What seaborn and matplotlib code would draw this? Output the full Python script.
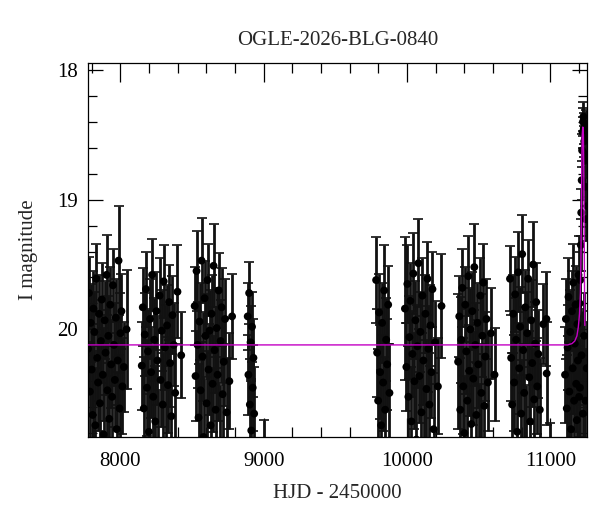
import matplotlib
matplotlib.use("Agg")
import matplotlib.pyplot as plt
from matplotlib.ticker import MultipleLocator, FormatStrFormatter
import numpy as np
import pandas as pd
import seaborn as sns

# observing seasons: HJD - 2450000, I magnitude, error
s1_t = [7774, 7780, 7787, 7793, 7799, 7806, 7812, 7818, 7825, 7831, 7838, 7844,
        7851, 7857, 7864, 7870, 7877, 7883, 7890, 7896, 7903, 7909, 7916, 7922,
        7929, 7935, 7942, 7948, 7955, 7961, 7968, 7974, 7981, 7987, 7994, 8000,
        8007, 8014, 8024, 8043]
s1_m = [20.15, 19.72, 20.48, 19.95, 20.31, 20.66, 19.84, 20.02, 20.74, 19.61, 20.22, 20.41,
        19.88, 20.57, 20.09, 19.77, 20.35, 20.81, 19.93, 20.18, 19.58, 20.47, 20.05, 20.69,
        19.81, 20.27, 20.52, 19.66, 20.12, 20.39, 19.91, 20.77, 20.24, 19.47, 20.61, 20.03,
        19.86, 20.44, 20.29, 20.00]
s1_e = [0.32, 0.28, 0.38, 0.30, 0.35, 0.42, 0.29, 0.31, 0.44, 0.27, 0.33, 0.37,
        0.30, 0.40, 0.32, 0.28, 0.36, 0.45, 0.30, 0.33, 0.31, 0.38, 0.31, 0.43,
        0.29, 0.34, 0.39, 0.28, 0.32, 0.36, 0.30, 0.44, 0.34, 0.42, 0.41, 0.31,
        0.29, 0.37, 0.35, 0.46]

s2_t = [8149, 8156, 8163, 8170, 8178, 8185, 8192, 8199, 8207, 8214, 8221, 8229,
        8236, 8243, 8251, 8258, 8265, 8273, 8280, 8288, 8295, 8302, 8310, 8317,
        8325, 8332, 8340, 8347, 8355, 8363, 8372, 8382, 8398, 8424]
s2_m = [20.28, 19.83, 20.61, 20.04, 19.69, 20.45, 20.17, 20.79, 19.92, 20.33, 19.58, 20.52,
        20.08, 20.71, 19.86, 20.24, 20.93, 19.74, 20.39, 20.01, 20.58, 19.63, 20.14, 20.86,
        19.97, 20.43, 19.79, 20.26, 20.67, 19.89, 20.12, 20.49, 19.71, 20.20]
s2_e = [0.34, 0.30, 0.40, 0.32, 0.29, 0.37, 0.33, 0.44, 0.31, 0.35, 0.28, 0.39,
        0.32, 0.43, 0.30, 0.34, 0.46, 0.29, 0.36, 0.31, 0.40, 0.28, 0.33, 0.45,
        0.31, 0.37, 0.29, 0.34, 0.41, 0.30, 0.32, 0.38, 0.36, 0.33]

s3_t = [8518, 8524, 8531, 8538, 8545, 8552, 8559, 8566, 8573, 8580, 8587, 8594,
        8601, 8608, 8615, 8622, 8629, 8636, 8643, 8650, 8657, 8664, 8671, 8678,
        8685, 8692, 8699, 8706, 8713, 8721, 8730, 8741, 8760, 8779]
s3_m = [19.82, 20.36, 19.55, 20.12, 20.68, 19.94, 20.47, 19.47, 20.21, 20.83, 19.76, 20.05,
        20.57, 19.62, 20.31, 20.01, 20.74, 19.88, 20.42, 19.51, 20.16, 20.62, 19.99, 20.35,
        19.70, 20.89, 20.09, 19.83, 20.50, 20.25, 19.92, 20.64, 20.40, 19.90]
s3_e = [0.30, 0.35, 0.31, 0.33, 0.41, 0.30, 0.37, 0.33, 0.34, 0.45, 0.29, 0.32,
        0.40, 0.28, 0.35, 0.31, 0.43, 0.30, 0.37, 0.32, 0.33, 0.41, 0.31, 0.36,
        0.29, 0.46, 0.32, 0.30, 0.39, 0.34, 0.31, 0.42, 0.37, 0.33]

s4_t = [8888, 8893, 8898, 8903, 8908, 8913, 8918, 8923, 8928, 8933, 9004]
s4_m = [19.90, 20.35, 19.72, 20.58, 20.10, 20.78, 19.98, 20.45, 20.22, 20.65, 21.10]
s4_e = [0.26, 0.31, 0.24, 0.35, 0.28, 0.38, 0.27, 0.33, 0.30, 0.36, 0.40]

s5_t = [9784, 9791, 9798, 9805, 9812, 9819, 9826, 9833, 9840, 9847, 9854, 9861,
        9868, 9877]
s5_m = [19.62, 20.18, 20.55, 19.87, 20.33, 20.74, 19.95, 20.41, 19.70, 20.62, 20.08, 20.27,
        19.81, 20.49]
s5_e = [0.33, 0.34, 0.40, 0.30, 0.36, 0.43, 0.31, 0.37, 0.35, 0.41, 0.32, 0.35,
        0.30, 0.38]

s6_t = [9985, 9995, 10002, 10009, 10016, 10023, 10030, 10037, 10044, 10051, 10058, 10065,
        10072, 10079, 10086, 10093, 10100, 10107, 10114, 10121, 10128, 10135, 10142, 10149,
        10156, 10163, 10170, 10177, 10185, 10195, 10215, 10240]
s6_m = [19.84, 20.29, 19.65, 20.52, 20.06, 19.78, 20.71, 20.19, 19.57, 20.40, 19.93, 20.85,
        20.13, 19.49, 20.36, 20.02, 20.64, 19.74, 20.24, 20.90, 19.88, 20.46, 19.61, 20.15,
        20.58, 19.97, 20.33, 19.69, 20.77, 20.10, 20.44, 19.82]
s6_e = [0.55, 0.34, 0.30, 0.39, 0.32, 0.29, 0.42, 0.33, 0.31, 0.37, 0.30, 0.45,
        0.32, 0.34, 0.36, 0.31, 0.41, 0.29, 0.34, 0.46, 0.30, 0.38, 0.28, 0.33,
        0.40, 0.31, 0.35, 0.29, 0.43, 0.32, 0.37, 0.40]

s7_t = [10356, 10364, 10371, 10378, 10385, 10392, 10399, 10406, 10413, 10420, 10427, 10434,
        10441, 10448, 10455, 10462, 10469, 10476, 10483, 10490, 10497, 10504, 10511, 10518,
        10525, 10532, 10539, 10546, 10554, 10564, 10585, 10610]
s7_m = [20.25, 19.90, 20.62, 20.08, 19.68, 20.44, 20.80, 19.81, 20.17, 20.55, 19.59, 20.32,
        20.00, 20.73, 19.86, 20.38, 19.52, 20.12, 20.66, 19.95, 20.27, 20.88, 19.74, 20.49,
        20.05, 19.64, 20.59, 20.21, 19.92, 20.41, 20.03, 20.35]
s7_e = [0.52, 0.31, 0.40, 0.33, 0.30, 0.37, 0.44, 0.29, 0.33, 0.40, 0.31, 0.35,
        0.32, 0.43, 0.30, 0.36, 0.33, 0.32, 0.41, 0.31, 0.34, 0.46, 0.29, 0.38,
        0.32, 0.30, 0.40, 0.34, 0.31, 0.37, 0.35, 0.36]

s8_t = [10718, 10726, 10733, 10740, 10747, 10754, 10761, 10768, 10775, 10782, 10789, 10796,
        10803, 10810, 10817, 10824, 10831, 10838, 10845, 10852, 10859, 10866, 10873, 10880,
        10887, 10894, 10901, 10908, 10916, 10926, 10950, 10972, 10974, 10996]
s8_m = [19.61, 20.22, 20.58, 19.88, 20.41, 19.73, 20.08, 20.79, 19.56, 20.30, 19.98, 20.65,
        19.42, 20.16, 20.49, 19.83, 20.90, 20.03, 19.61, 20.37, 20.71, 19.93, 20.26, 19.50,
        20.54, 20.11, 19.79, 20.44, 20.19, 20.62, 19.96, 19.92, 20.34, 21.10]
s8_e = [0.25, 0.33, 0.40, 0.30, 0.37, 0.29, 0.32, 0.44, 0.31, 0.35, 0.31, 0.41,
        0.30, 0.33, 0.38, 0.29, 0.47, 0.32, 0.30, 0.36, 0.42, 0.31, 0.34, 0.33,
        0.39, 0.32, 0.30, 0.37, 0.34, 0.40, 0.31, 0.36, 0.40, 0.38]

s9_t = [11102, 11108, 11114, 11120, 11126, 11132, 11138, 11144, 11150, 11155, 11160, 11165,
        11170, 11175, 11180, 11184, 11188, 11192, 11196, 11200, 11204, 11208, 11212, 11215,
        11218, 11221, 11224, 11227, 11230, 11233, 11236, 11239, 11242, 11245, 11248, 11251,
        11254, 11257, 11206, 11217, 11226, 11235, 11244, 11253]
s9_m = [20.35, 19.92, 20.61, 20.14, 19.75, 20.48, 20.02, 20.77, 19.86, 20.30, 19.64, 20.55,
        20.11, 19.81, 20.42, 20.70, 19.96, 20.24, 19.58, 20.52, 19.80, 19.62, 19.35, 19.10,
        18.85, 18.62, 18.48, 18.40, 18.36, 18.45, 18.55, 18.70, 18.90, 19.15, 18.50, 18.42,
        18.65, 19.05, 20.45, 20.20, 20.65, 20.05, 20.55, 20.30]
s9_e = [0.37, 0.31, 0.41, 0.33, 0.30, 0.38, 0.32, 0.44, 0.31, 0.35, 0.30, 0.40,
        0.33, 0.30, 0.37, 0.42, 0.31, 0.34, 0.30, 0.39, 0.25, 0.22, 0.20, 0.18,
        0.15, 0.13, 0.12, 0.11, 0.11, 0.12, 0.12, 0.13, 0.15, 0.17, 0.12, 0.11,
        0.13, 0.16, 0.38, 0.34, 0.41, 0.33, 0.40, 0.36]

# microlensing model curve
model_t = [7771, 11120, 11150, 11170, 11185, 11195, 11203, 11209, 11213, 11216,
           11219, 11222, 11226, 11230, 11233, 11236, 11238, 11240]
model_m = [20.12, 20.12, 20.11, 20.09, 20.05, 19.98, 19.88, 19.72, 19.45, 19.10,
           18.75, 18.50, 18.44, 18.50, 18.80, 19.30, 19.70, 19.97]

title = "OGLE-2026-BLG-0840"

phot = pd.DataFrame({
    "hjd": s1_t + s2_t + s3_t + s4_t + s5_t + s6_t + s7_t + s8_t + s9_t,
    "mag": s1_m + s2_m + s3_m + s4_m + s5_m + s6_m + s7_m + s8_m + s9_m,
    "err": s1_e + s2_e + s3_e + s4_e + s5_e + s6_e + s7_e + s8_e + s9_e,
})
model = pd.DataFrame({"hjd": model_t, "mag": model_m})

sns.set_theme(style="ticks")
plt.rcParams["font.family"] = ["Liberation Serif", "DejaVu Serif"]
plt.rcParams["font.size"] = 15

fig = plt.figure(figsize=(6.0, 5.12), dpi=100)
ax = fig.add_axes([0.146, 0.1465, 0.833, 0.7305])

# dense OGLE photometry: thick bars and caps so the seasons read as solid blocks
ax.errorbar(phot["hjd"], phot["mag"], yerr=phot["err"], fmt="none",
            ecolor="#111111", elinewidth=2.0, capsize=3.5, capthick=1.2, zorder=2)
sns.scatterplot(data=phot, x="hjd", y="mag", color="black", s=32,
                edgecolor="none", ax=ax, zorder=3)
sns.lineplot(data=model, x="hjd", y="mag", color="#c400c4", lw=1.0,
             estimator=None, sort=False, ax=ax, zorder=4)

ax.set_xlim(7771, 11258)
ax.set_ylim(20.83, 17.946)

ax.xaxis.set_major_locator(MultipleLocator(1000))
ax.xaxis.set_minor_locator(MultipleLocator(200))
ax.yaxis.set_major_locator(MultipleLocator(1))
ax.yaxis.set_minor_locator(MultipleLocator(0.2))
ax.xaxis.set_major_formatter(FormatStrFormatter("%d"))
ax.yaxis.set_major_formatter(FormatStrFormatter("%d"))

ax.tick_params(axis="both", which="both", direction="in", top=True, right=True,
               colors="black", width=0.9, labelsize=15)
ax.tick_params(axis="x", which="major", length=14, pad=11)
ax.tick_params(axis="x", which="minor", length=7)
ax.tick_params(axis="y", which="major", length=10.5, pad=7)
ax.tick_params(axis="y", which="minor", length=6.5)
for sp in ax.spines.values():
    sp.set_linewidth(0.9)
    sp.set_color("black")

ax.set_xlabel("HJD - 2450000", fontsize=15, labelpad=9)
ax.set_ylabel("I magnitude", fontsize=15, labelpad=14)
ax.set_title(title, fontsize=15, pad=13)

fig.savefig("out.png", dpi=100, facecolor="white")
